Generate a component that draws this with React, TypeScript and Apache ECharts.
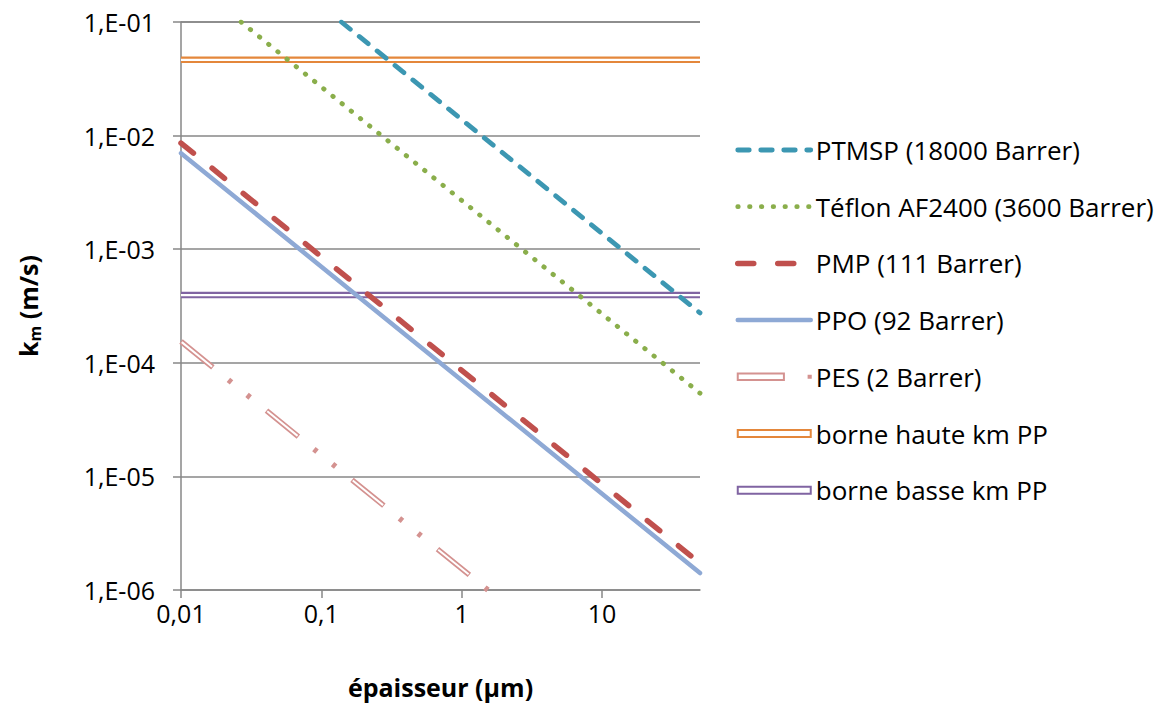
import React, { useEffect, useRef } from "react";
import * as echarts from "echarts";

// ---- data ----
const xTickValues = [0.01, 0.1, 1, 10];

const ptmspX = [0.139, 50];
const ptmspY = [0.1, 2.75e-4];

const teflonX = [0.0268, 50];
const teflonY = [0.1, 5.4e-5];

const pmpX = [0.01, 50];
const pmpY = [8.6e-3, 1.72e-6];

const ppoX = [0.01, 50];
const ppoY = [7.0e-3, 1.41e-6];

const pesX = [0.01, 1.54];
const pesY = [1.54e-4, 1.0e-6];

const hauteX = [0.01, 50];
const hauteY = [0.0465, 0.0465];

const basseX = [0.01, 50];
const basseY = [3.95e-4, 3.95e-4];

const NAMES = {
  ptmsp: "PTMSP (18000 Barrer)",
  teflon: "Téflon AF2400 (3600 Barrer)",
  pmp: "PMP (111 Barrer)",
  ppo: "PPO (92 Barrer)",
  pes: "PES (2 Barrer)",
  haute: "borne haute km PP",
  basse: "borne basse km PP",
};

const COLORS = {
  ptmsp: "#3C97B2",
  teflon: "#8AAE4B",
  pmp: "#C0504D",
  ppo: "#8EA9D5",
  pes: "#D49290",
  haute: "#E4873B",
  basse: "#8064A2",
};

const FONT = "'Open Sans', 'Noto Sans', sans-serif";

const pairs = (xs: number[], ys: number[]) => xs.map((x, i) => [x, ys[i]]);

export default function App() {
  const ref = useRef<HTMLDivElement>(null);

  useEffect(() => {
    if (!ref.current) return;
    const chart = echarts.init(ref.current, undefined, { renderer: "svg" });

    const lineBase = (name: string, xs: number[], ys: number[], color: string, lineStyle: any, extra: any = {}) => ({
      type: "line",
      name,
      data: pairs(xs, ys),
      symbol: "none",
      showSymbol: false,
      clip: true,
      silent: true,
      color,
      lineStyle: { color, ...lineStyle },
      ...extra,
    });

    const option: any = {
      animation: false,
      backgroundColor: "#ffffff",
      textStyle: { fontFamily: FONT },
      grid: { left: 181, right: 458, top: 22, bottom: 117, containLabel: false },
      xAxis: {
        type: "log",
        logBase: 10,
        min: 0.01,
        max: 50,
        name: "épaisseur (µm)",
        nameLocation: "middle",
        nameGap: 84,
        nameTextStyle: { fontFamily: FONT, fontWeight: "bold", fontSize: 25, color: "#000" },
        axisLine: { show: true, lineStyle: { color: "#878787", width: 1.5 } },
        axisTick: {
          show: true,
          inside: false,
          length: 8,
          customValues: xTickValues,
          lineStyle: { color: "#878787", width: 1.5 },
        },
        axisLabel: {
          show: true,
          margin: 10,
          customValues: xTickValues,
          fontFamily: FONT,
          fontSize: 25,
          color: "#000",
          formatter: (v: number) => {
            const e = Math.log10(v);
            if (Math.abs(e - Math.round(e)) > 1e-6) return "";
            return String(v).replace(".", ",");
          },
        },
        splitLine: { show: false },
        minorTick: { show: false },
      },
      yAxis: {
        type: "log",
        logBase: 10,
        min: 1e-6,
        max: 1e-1,
        name: "{a|k}{s|m}{a| (m/s)}",
        nameLocation: "middle",
        nameGap: 138,
        nameTextStyle: {
          fontFamily: FONT,
          fontWeight: "bold",
          fontSize: 25,
          color: "#000",
          rich: {
            a: { fontFamily: FONT, fontWeight: "bold", fontSize: 25, color: "#000" },
            s: { fontFamily: FONT, fontWeight: "bold", fontSize: 16, color: "#000", padding: [14, 0, 0, 0] },
          },
        },
        axisLine: { show: true, lineStyle: { color: "#878787", width: 1.5 } },
        axisTick: { show: true, inside: false, length: 8, lineStyle: { color: "#878787", width: 1.5 } },
        axisLabel: {
          margin: 26,
          fontFamily: FONT,
          fontSize: 25,
          color: "#000",
          formatter: (v: number) => {
            const e = Math.round(Math.log10(v));
            return "1,E-" + String(-e).padStart(2, "0");
          },
        },
        splitLine: { show: true, lineStyle: { color: "#878787", width: 1.5 } },
        minorTick: { show: false },
      },
      legend: {
        orient: "vertical",
        left: 730,
        top: 130,
        padding: 5,
        itemWidth: 73,
        itemHeight: 7,
        itemGap: 26.7,
        selectedMode: false,
        textStyle: { fontFamily: FONT, fontSize: 26, color: "#000", lineHeight: 30 },
        itemStyle: { opacity: 0 },
        lineStyle: { width: "inherit", type: "inherit", cap: "inherit", dashOffset: "inherit" },
        data: [
          { name: NAMES.ptmsp },
          { name: NAMES.teflon },
          { name: NAMES.pmp },
          { name: NAMES.ppo },
          {
            name: NAMES.pes,
            icon: "path://M0,0.5H43V6.5H0Z M66,2.5H68V4.5H66Z",
            itemStyle: { opacity: 1, color: "#ffffff", borderColor: COLORS.pes, borderWidth: 2 },
          },
          {
            name: NAMES.haute,
            icon: "path://M0,0H73V7H0Z",
            itemStyle: { opacity: 1, color: "#ffffff", borderColor: COLORS.haute, borderWidth: 2 },
          },
          {
            name: NAMES.basse,
            icon: "path://M0,0H73V7H0Z",
            itemStyle: { opacity: 1, color: "#ffffff", borderColor: COLORS.basse, borderWidth: 2 },
          },
        ],
      },
      series: [
        lineBase(NAMES.haute, hauteX, hauteY, COLORS.haute, { width: 6.5, type: "solid", cap: "butt" }),
        lineBase(NAMES.haute + " core", hauteX, hauteY, "#ffffff", { width: 2.2, type: "solid", cap: "butt" }),
        lineBase(NAMES.basse, basseX, basseY, COLORS.basse, { width: 6.5, type: "solid", cap: "butt" }),
        lineBase(NAMES.basse + " core", basseX, basseY, "#ffffff", { width: 2.2, type: "solid", cap: "butt" }),
        lineBase(NAMES.pes, pesX, pesY, COLORS.pes, {
          width: 5.5,
          type: [41, 20, 4, 20, 4, 21],
          cap: "butt",
        }),
        lineBase(NAMES.pes + " core", pesX, pesY, "#ffffff", {
          width: 2,
          type: [39, 71],
          dashOffset: -1,
          cap: "butt",
        }),
        lineBase(NAMES.ppo, ppoX, ppoY, COLORS.ppo, { width: 4.5, type: "solid", cap: "round" }),
        lineBase(NAMES.pmp, pmpX, pmpY, COLORS.pmp, { width: 5.5, type: [16, 24], cap: "round" }),
        lineBase(NAMES.teflon, teflonX, teflonY, COLORS.teflon, { width: 4.8, type: [0.5, 11.3], cap: "round" }),
        lineBase(NAMES.ptmsp, ptmspX, ptmspY, COLORS.ptmsp, { width: 4.8, type: [11.5, 11.5], cap: "round" }),
      ],
    };

    chart.setOption(option);
    return () => chart.dispose();
  }, []);

  return (
    <div
      ref={ref}
      style={{ position: "absolute", left: 0, top: 0, width: 1158, height: 707, background: "#fff" }}
    />
  );
}
